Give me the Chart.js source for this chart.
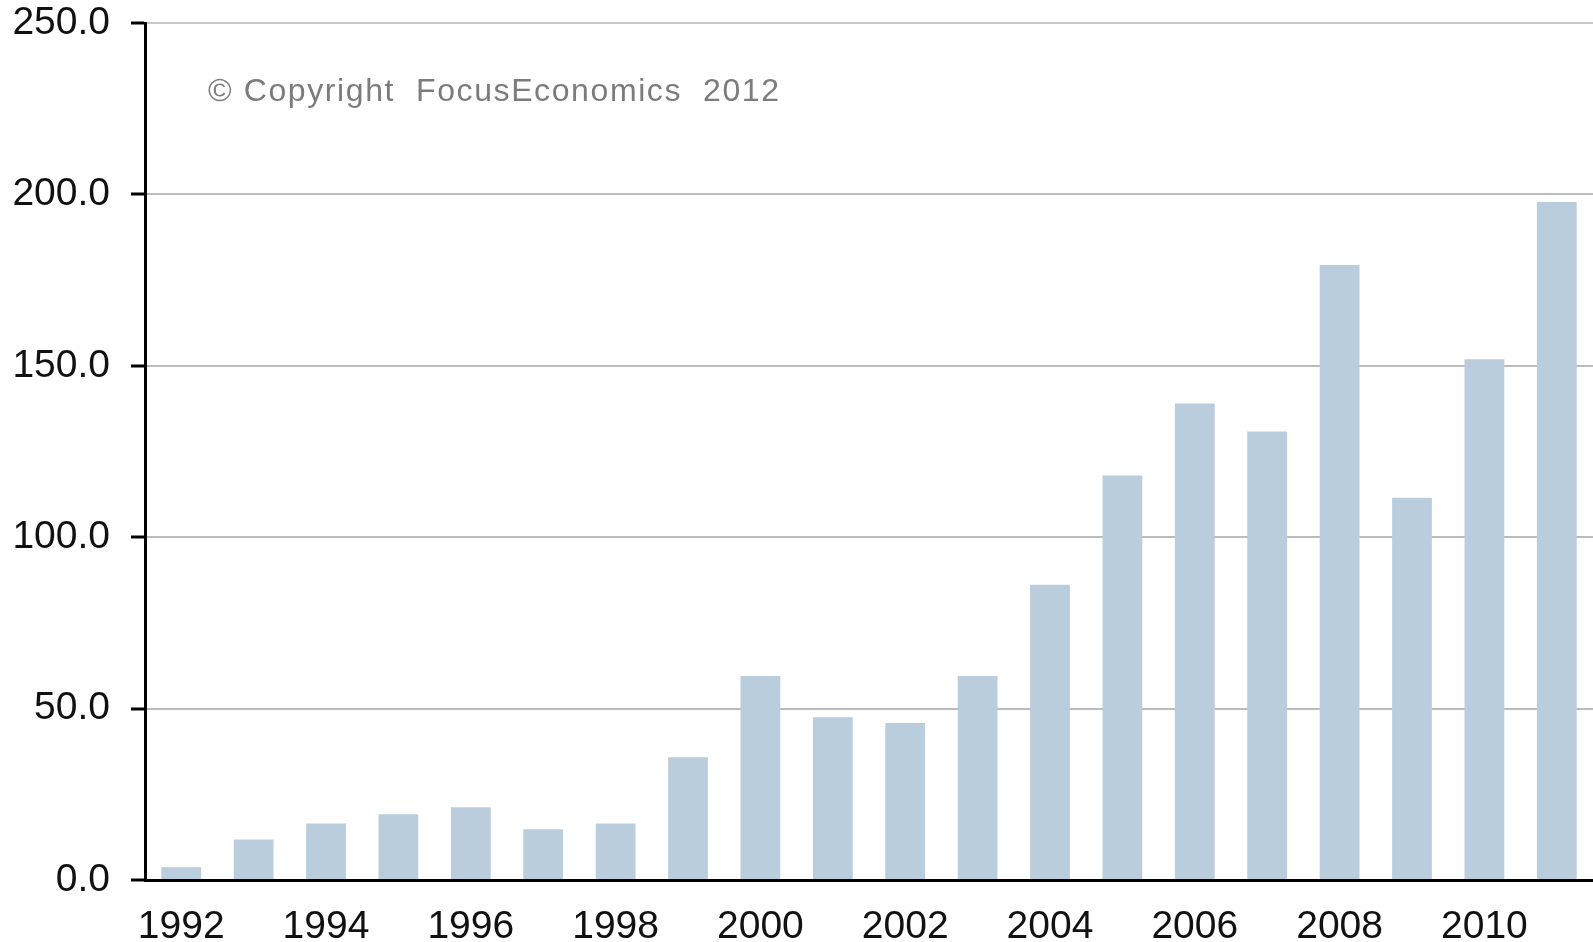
<!DOCTYPE html>
<html>
<head>
<meta charset="utf-8">
<script src="https://cdn.jsdelivr.net/npm/chart.js@4"></script>
<style>
    html, body { margin: 0; padding: 0; background: #fff; }
    #wrap { width: 1593px; height: 942px; }
</style>
</head>
<body>
<div id="wrap"><canvas id="chart"></canvas></div>
<script>
const years = ["1992", "1993", "1994", "1995", "1996", "1997", "1998", "1999", "2000", "2001",
    "2002", "2003", "2004", "2005", "2006", "2007", "2008", "2009", "2010", "2011"];
const values = [3.7, 11.8, 16.5, 19.2, 21.2, 14.8, 16.5, 35.8, 59.5, 47.5,
    45.8, 59.5, 86.1, 118.0, 139.0, 130.8, 179.4, 111.5, 151.9, 197.8];
const yTicks = [0, 50, 100, 150, 200, 250];
const copyrightText = "\u00A9 Copyright  FocusEconomics  2012";

const FONT = "'Liberation Sans', Arial, sans-serif";

// copyright note in the upper left of the plot
const copyrightPlugin = {
    id: "copyright",
    beforeDatasetsDraw(chart) {
        const ctx = chart.ctx;
        const area = chart.chartArea;
        ctx.save();
        ctx.font = "32px " + FONT;
        ctx.fillStyle = "#7c7c7c";
        ctx.letterSpacing = "1.6px";
        ctx.textBaseline = "alphabetic";
        ctx.fillText(copyrightText, area.left + 63, area.top + 78);
        ctx.restore();
    },
};

document.addEventListener("DOMContentLoaded", function () {
    const canvas = document.getElementById("chart");

    new Chart(canvas, {
        type: "bar",
        data: {
            labels: years,
            datasets: [
                {
                    label: "Value",
                    data: values,
                    backgroundColor: "#bacddc",
                    borderWidth: 0,
                    barPercentage: 0.55,
                    categoryPercentage: 1.0,
                },
            ],
        },
        options: {
            responsive: true,
            maintainAspectRatio: false,
            animation: false,
            layout: {
                padding: { top: 23, right: 0, bottom: 0, left: 0 },
            },
            plugins: {
                legend: { display: false },
                tooltip: { enabled: false },
            },
            scales: {
                x: {
                    grid: { display: false, drawTicks: false },
                    border: { display: true, color: "#000", width: 3 },
                    ticks: {
                        autoSkip: false,
                        maxRotation: 0,
                        padding: 24,
                        color: "#111",
                        font: { family: FONT, size: 39 },
                        callback: function (value, index) {
                            return index % 2 === 0 ? years[index] : "";
                        },
                    },
                    afterFit: function (scale) {
                        scale.height = 62;
                        scale.paddingLeft = 0;
                        scale.paddingRight = 0;
                    },
                },
                y: {
                    min: yTicks[0],
                    max: yTicks[yTicks.length - 1],
                    afterBuildTicks: function (scale) {
                        scale.ticks = yTicks.map((v) => ({ value: v }));
                    },
                    grid: {
                        color: function (c) {
                            return c.tick && c.tick.value === 250 ? "#c8c8c8" : "#bbbbbb";
                        },
                        lineWidth: 2,
                        tickColor: "#000",
                        tickLength: 14,
                        tickWidth: 3,
                    },
                    border: { display: true, color: "#000", width: 3 },
                    ticks: {
                        padding: 21,
                        color: "#111",
                        font: { family: FONT, size: 39 },
                        callback: function (value) {
                            return Number(value).toFixed(1);
                        },
                    },
                    afterFit: function (scale) {
                        scale.width = 145;
                        scale.paddingTop = 0;
                        scale.paddingBottom = 0;
                    },
                },
            },
        },
        plugins: [copyrightPlugin],
    });
});
</script>
</body>
</html>
